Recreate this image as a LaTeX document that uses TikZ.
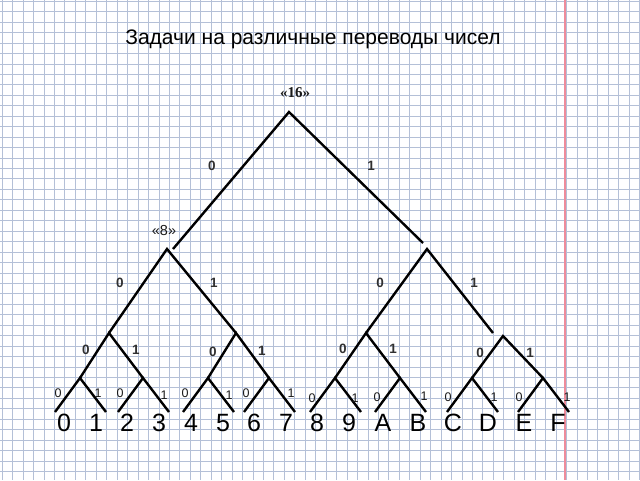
\documentclass[tikz,border=0pt]{standalone}
\usepackage{fontspec}
\setmainfont{Liberation Sans}
\newfontfamily\serifbold{Liberation Serif}
\definecolor{gridc}{RGB}{180,192,215}
\definecolor{marginc}{RGB}{238,140,155}
\definecolor{labc}{RGB}{25,25,25}
\tikzset{
  gridline/.style={draw=gridc, line width=1pt},
  branch/.style={draw=black, line width=2.4pt},
  bitlab/.style={font=\bfseries\fontsize{13.5}{13.5}\selectfont, text=labc!90!white, inner sep=0pt},
  smallbit/.style={font=\fontsize{12.5}{12.5}\selectfont, text=labc, inner sep=0pt},
  digitlab/.style={font=\fontsize{25}{25}\selectfont, text=black, inner sep=0pt},
}
\begin{document}
\begin{tikzpicture}[x=1pt,y=-1pt]
\useasboundingbox (0,0) rectangle (640,480);
\fill[white] (0,0) rectangle (640,480);
% graph paper
\foreach \i in {0,...,61} \draw[gridline] ({2.25+10.45*\i},0) -- ({2.25+10.45*\i},480);
\foreach \j in {0,...,46} \draw[gridline] (0,{1.3+10.45*\j}) -- (640,{1.3+10.45*\j});
\draw[draw=marginc, line width=1.5pt] (565,0) -- (565,480);
% title
\node[anchor=base, inner sep=0pt] (title) at (313,44) {\fontsize{21}{21}\selectfont Задачи на различные переводы чисел};
\node[inner sep=0pt, text=labc] (l16) at (295,93) {\serifbold\bfseries\fontsize{15}{15}\selectfont «16»};
\node[inner sep=0pt, text=labc] (l8) at (164,231) {\fontsize{14.5}{14.5}\selectfont «8»};
% tree points
\coordinate (r) at (289,112);
\coordinate (re0) at (173,249);
\coordinate (re1) at (423,243);
\coordinate (n0) at (167,249);
\coordinate (n1) at (427,249);
\coordinate (n1e) at (493,333);
\coordinate (a0) at (109,333);
\coordinate (a1) at (236,333);
\coordinate (a2) at (366,333);
\coordinate (a3) at (503,336);
\foreach \k/\x in {1/80,2/143,3/208,4/269,5/335,6/400,7/472,8/543}{
  \coordinate (b\k) at (\x,378);
  \coordinate (b\k l) at (\x-25,412);
  \coordinate (b\k r) at (\x+26,412);
}
% branches
\draw[branch] (re0) -- (r) -- (re1);
\draw[branch] (a0) -- (n0) -- (a1);
\draw[branch] (a2) -- (n1) -- (n1e);
\draw[branch] (b1) -- (a0) -- (b2);
\draw[branch] (b3) -- (a1) -- (b4);
\draw[branch] (b5) -- (a2) -- (b6);
\draw[branch] (b7) -- (a3) -- (b8);
\foreach \k in {1,...,8}{
  \draw[branch] (b\k l) -- (b\k) -- (b\k r);
}
% bit labels
\node[bitlab] (e0) at (212,166) {0};
\node[bitlab] (e1) at (371,166) {1};
\node[bitlab] (e00) at (120,283) {0};
\node[bitlab] (e01) at (214,283) {1};
\node[bitlab] (e10) at (380,283) {0};
\node[bitlab] (e11) at (474,283) {1};
\node[bitlab] (f0) at (86,350) {0};
\node[bitlab] (f1) at (136,350) {1};
\node[bitlab] (f2) at (213,352) {0};
\node[bitlab] (f3) at (262,351) {1};
\node[bitlab] (f4) at (343,349) {0};
\node[bitlab] (f5) at (393,349) {1};
\node[bitlab] (f6) at (480,353) {0};
\node[bitlab] (f7) at (530,353) {1};
\foreach \n/\x/\y/\t in {1/58/393/0,2/98/393/1,3/120/393/0,4/164/395/1,5/185/393/0,6/229/395/1,7/246/393/0,8/291/393/1,9/312/398/0,10/355/398/1,11/377/397/0,12/424/396/1,13/448/397/0,14/494/397/1,15/519/397/0,16/567/397/1}{
  \node[smallbit] (g\n) at (\x,\y) {\t};
}
% leaf symbols
\foreach \n/\x/\t in {1/64/0,2/96/1,3/127/2,4/159/3,5/191/4,6/223/5,7/254/6,8/286/7,9/317/8,10/349/9,11/383/A,12/418/B,13/453/C,14/488/D,15/524/E,16/558/F}{
  \node[digitlab] (d\n) at (\x,423) {\t};
}
\end{tikzpicture}
\end{document}
